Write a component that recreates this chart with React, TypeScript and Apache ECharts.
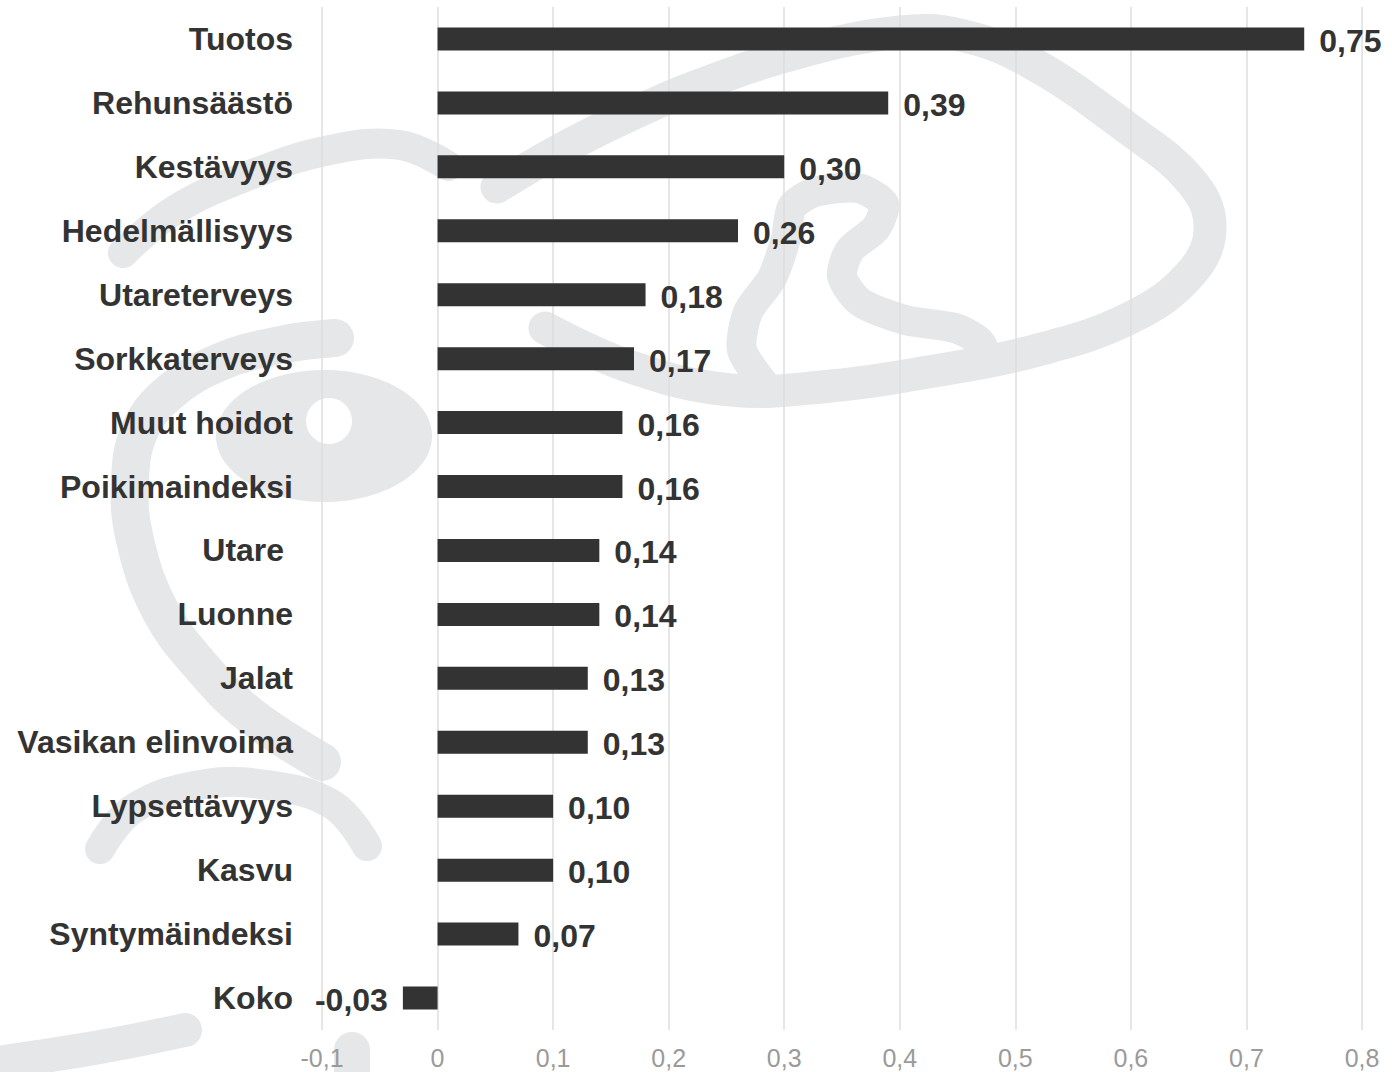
import React, { useEffect, useRef } from 'react';
import * as echarts from 'echarts';

const categories = [
  'Tuotos',
  'Rehunsäästö',
  'Kestävyys',
  'Hedelmällisyys',
  'Utareterveys',
  'Sorkkaterveys',
  'Muut hoidot',
  'Poikimaindeksi',
  'Utare ',
  'Luonne',
  'Jalat',
  'Vasikan elinvoima',
  'Lypsettävyys',
  'Kasvu',
  'Syntymäindeksi',
  'Koko',
];
const values = [0.75, 0.39, 0.3, 0.26, 0.18, 0.17, 0.16, 0.16, 0.14, 0.14, 0.13, 0.13, 0.1, 0.1, 0.07, -0.03];
const axisMin = -0.1;
const axisMax = 0.8;
const axisStep = 0.1;

const FONT = '"Liberation Sans", Arial, Helvetica, sans-serif';
const WM = '#e6e7e8';

function stroke(points: number[][], lineWidth: number, smooth = 0.4) {
  return {
    type: 'polyline',
    z: -10,
    silent: true,
    shape: { points, smooth },
    style: { stroke: WM, lineWidth, fill: null, lineCap: 'round', lineJoin: 'round' },
  };
}

function fmtTick(v: number) {
  const r = Math.round(v * 10) / 10;
  if (r === 0) return '0';
  return r.toFixed(1).replace('.', ',');
}

export default function App() {
  const ref = useRef<HTMLDivElement>(null);
  useEffect(() => {
    document.body.style.margin = '0';
    if (!ref.current) return;
    const chart = echarts.init(ref.current, undefined, { renderer: 'svg' });
    chart.setOption({
      animation: false,
      backgroundColor: '#ffffff',
      grid: { left: 322, right: 30, top: 7, bottom: 42, containLabel: false },
      xAxis: {
        type: 'value',
        min: axisMin,
        max: axisMax,
        interval: axisStep,
        axisLine: { show: false },
        axisTick: { show: false },
        splitLine: { show: true, lineStyle: { color: '#dedede', width: 1.5 } },
        axisLabel: {
          formatter: fmtTick,
          fontSize: 25,
          color: '#9a9a9a',
          fontFamily: FONT,
          margin: 15,
        },
      },
      yAxis: {
        type: 'category',
        data: categories,
        inverse: true,
        axisLine: { show: false },
        axisTick: { show: false },
        splitLine: { show: false },
        axisLabel: {
          fontSize: 32,
          fontWeight: 'bold',
          color: '#333333',
          fontFamily: FONT,
          margin: 29,
        },
      },
      graphic: {
        elements: [
          // upper-left arc
          stroke([[123, 253], [175, 210], [250, 175], [330, 150], [400, 145], [448, 166]], 30),
          // big outline
          stroke(
            [
              [497, 187], [560, 150], [630, 115], [700, 85], [800, 52], [900, 32], [960, 35],
              [1030, 62], [1130, 130], [1190, 180], [1210, 225], [1192, 272], [1130, 318],
              [1030, 352], [928, 372], [831, 386], [731, 390], [631, 367], [545, 328],
            ],
            33
          ),
          // inner S loop
          stroke(
            [
              [765, 385], [742, 350], [748, 312], [772, 278], [786, 238], [792, 207], [815, 192],
              [858, 188], [884, 204], [876, 228], [850, 250], [842, 276], [860, 302], [905, 320],
              [955, 328], [980, 342], [988, 360],
            ],
            30,
            0.25
          ),
          // long left arc
          stroke(
            [
              [335, 338], [280, 345], [220, 362], [170, 392], [140, 430], [130, 480], [135, 540],
              [160, 610], [200, 665], [250, 715], [322, 762],
            ],
            38
          ),
          // eye blob
          {
            type: 'ellipse',
            z: -10,
            silent: true,
            shape: { cx: 324, cy: 436, rx: 108, ry: 66 },
            style: { fill: WM },
          },
          {
            type: 'circle',
            z: -9,
            silent: true,
            shape: { cx: 329, cy: 421, r: 23 },
            style: { fill: '#ffffff' },
          },
          // inverted U
          stroke([[100, 849], [133, 809], [200, 785], [267, 785], [333, 805], [367, 846]], 30),
          // bottom-left band
          stroke([[-10, 1064], [100, 1047], [185, 1030]], 34),
          // bottom blob
          stroke([[352, 1050], [352, 1095]], 36),
        ],
      },
      series: [
        {
          type: 'bar',
          barWidth: 23,
          data: values.map((v) => ({
            value: v,
            label: { position: v < 0 ? 'left' : 'right' },
          })),
          itemStyle: { color: '#333333' },
          label: {
            show: true,
            distance: 15,
            offset: [0, 2],
            fontSize: 32,
            fontWeight: 'bold',
            color: '#333333',
            fontFamily: FONT,
            formatter: (p: any) => Number(p.value).toFixed(2).replace('.', ','),
          },
          z: 2,
        },
      ],
    });
    return () => chart.dispose();
  }, []);
  return (
    <div
      ref={ref}
      style={{ position: 'absolute', left: 0, top: 0, width: 1392, height: 1072 }}
    />
  );
}
